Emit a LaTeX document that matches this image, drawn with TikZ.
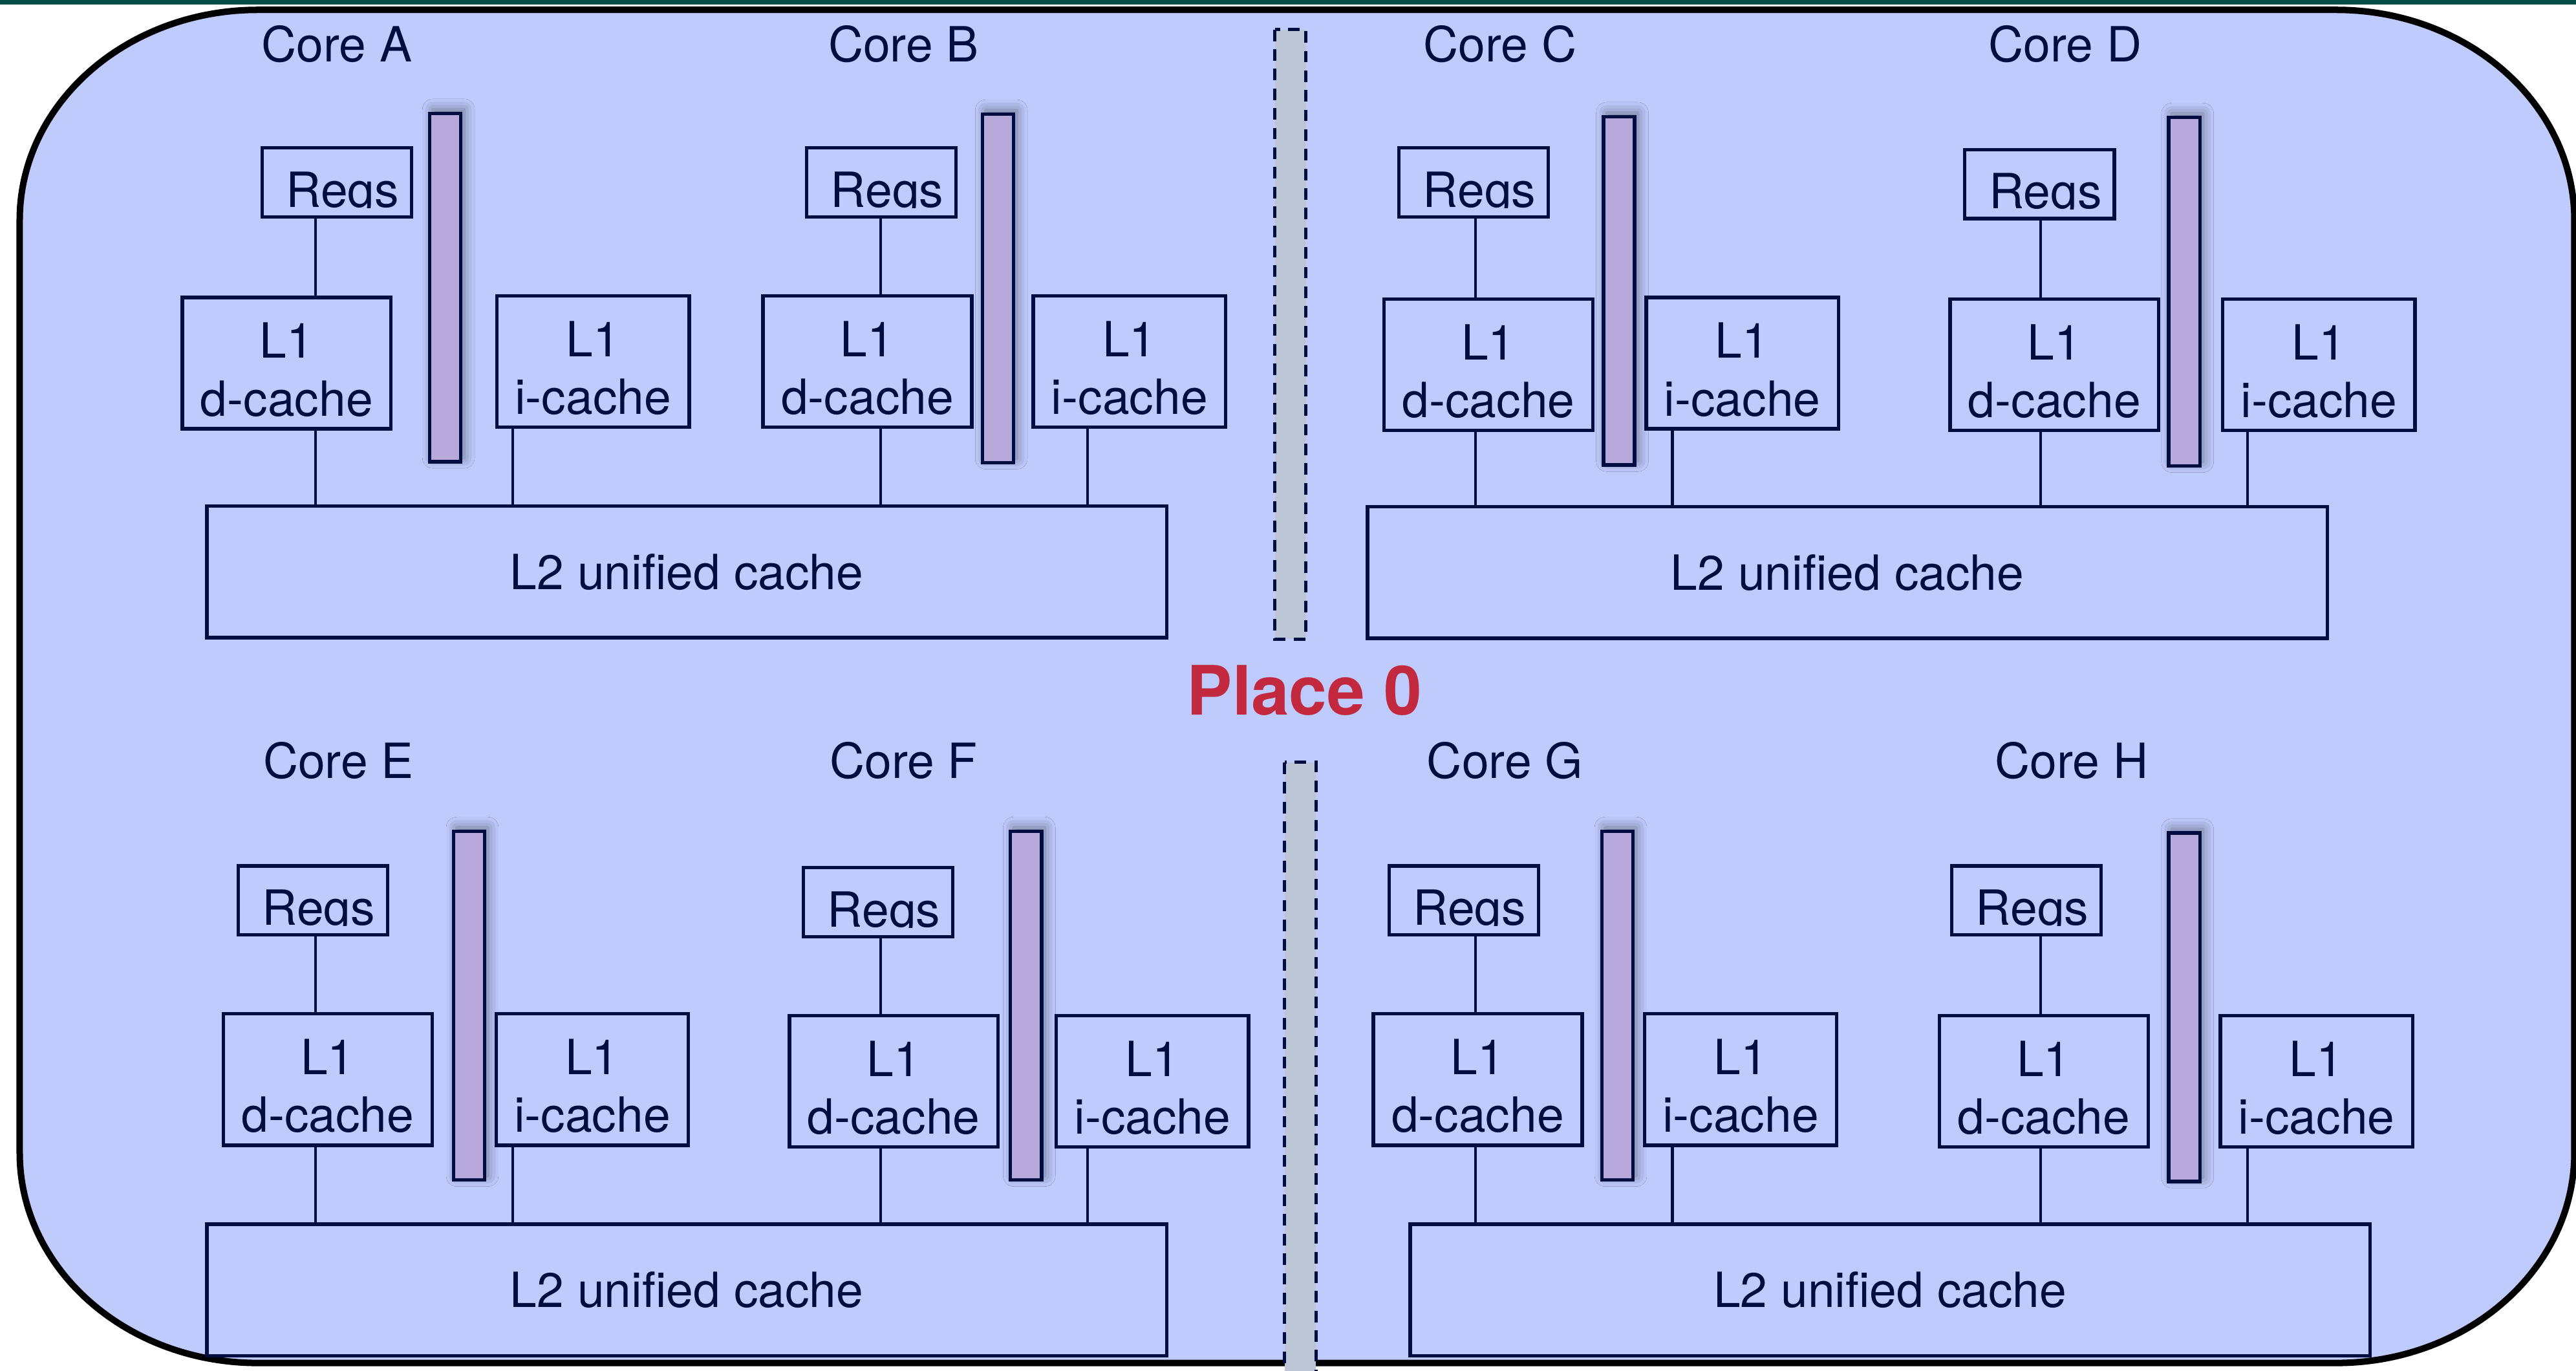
\documentclass[tikz,border=0pt]{standalone}
\usepackage{fontspec}
\setsansfont{TeX Gyre Heros}
\usetikzlibrary{shadows.blur}
\definecolor{navy}{HTML}{000D40}
\definecolor{canvas}{HTML}{C0CBFD}
\definecolor{barfill}{HTML}{B7AADB}
\definecolor{sepfill}{HTML}{BDC6D6}
\definecolor{placered}{HTML}{C2293F}
\definecolor{topband}{HTML}{004D48}
\tikzset{
  every node/.style={font=\sffamily\fontsize{21}{25}\selectfont, text=navy},
  box/.style={draw=navy, line width=1.5pt, fill=canvas, align=center, inner sep=0pt},
  twoline/.style={box, minimum height=2cm, execute at begin node={\rule{0pt}{46pt}}},
  dcache/.style={twoline, minimum width=3.175cm},
  icache/.style={twoline, minimum width=2.925cm},
  l2box/.style={box, minimum width=14.6cm, minimum height=2cm},
  regsbox/.style={box, minimum width=2.275cm, minimum height=1.05cm,
    path picture={\clip ([yshift=0.14cm]path picture bounding box.south west) rectangle (path picture bounding box.north east);
      \node[anchor=base, inner sep=0pt] at ([xshift=2.5pt, yshift=0.15cm]path picture bounding box.south) {#1};}},
  busbar/.style={draw=navy, line width=1.5pt, fill=barfill, minimum width=0.475cm, minimum height=5.3cm, inner sep=0pt,
    blur shadow={shadow xshift=0.5mm, shadow yshift=0.6mm, shadow blur radius=1.6mm, shadow opacity=45}},
  divider/.style={draw=navy, line width=1.4pt, fill=sepfill, dash pattern=on 5pt off 3.5pt},
  wire/.style={draw=navy, line width=1.2pt},
  corelabel/.style={inner sep=0pt},
  placelabel/.style={font=\sffamily\bfseries\fontsize{29.5}{30}\selectfont, text=placered, inner sep=0pt},
}

\begin{document}
\begin{tikzpicture}[x=0.025cm, y=-0.025cm]
\useasboundingbox (0,0) rectangle (1568,834);
\fill[white] (0,0) rectangle (1568,834);
\fill[topband] (0,0) rectangle (1568,2.7);
% outer place outline
\path[draw=black, line width=2.8pt, fill=canvas] (157,6) -- (1422,6) arc[start angle=-90, end angle=0, x radius=145, y radius=128]
  -- (1567,701.5) arc[start angle=0, end angle=90, x radius=145, y radius=128] -- (157,829.5) arc[start angle=90, end angle=180, x radius=145, y radius=128]
  -- (12,134) arc[start angle=180, end angle=270, x radius=145, y radius=128] -- cycle;
\path[divider] (776,18) rectangle (795,389);
\path[divider] (782,464) rectangle (801,840);
\node[placelabel] (place) at (794,420) {Place 0};
% tap columns
\coordinate (dcol1) at (192,0); \coordinate (icol1) at (312,0); \coordinate (dcol2) at (536,0); \coordinate (icol2) at (662,0);
\coordinate (dcol3) at (898,0); \coordinate (icol3) at (1018,0); \coordinate (dcol4) at (1242,0); \coordinate (icol4) at (1368,0);
% L2 caches
\node[l2box] (l2TL) at (418,348) {L2 unified cache}; \node[l2box] (l2TR) at (1124.5,348.5) {L2 unified cache};
\node[l2box] (l2BL) at (418,785) {L2 unified cache}; \node[l2box] (l2BR) at (1150.5,785) {L2 unified cache};
% cores A, B
\node[corelabel] (coreA) at (205,27) {Core A}; \node[regsbox=Regs] (regsA) at (205,111) {};
\node[dcache] (l1dA) at (174.5,221) {L1\\d-cache}; \node[icache] (l1iA) at (361,220) {L1\\i-cache}; \node[busbar] (busA) at (271,175) {};
\draw[wire] (regsA.south -| dcol1) -- (l1dA.north -| dcol1) (l1dA.south -| dcol1) -- (l2TL.north -| dcol1) (l1iA.south -| icol1) -- (l2TL.north -| icol1);
\node[corelabel] (coreB) at (550,27) {Core B}; \node[regsbox=Regs] (regsB) at (536.5,111) {};
\node[dcache] (l1dB) at (528,220) {L1\\d-cache}; \node[icache] (l1iB) at (687.5,220) {L1\\i-cache}; \node[busbar] (busB) at (607.5,175.5) {};
\draw[wire] (regsB.south -| dcol2) -- (l1dB.north -| dcol2) (l1dB.south -| dcol2) -- (l2TL.north -| dcol2) (l1iB.south -| icol2) -- (l2TL.north -| icol2);
% cores C, D
\node[corelabel] (coreC) at (913,27) {Core C}; \node[regsbox=Regs] (regsC) at (897,111) {};
\node[dcache] (l1dC) at (906,222) {L1\\d-cache}; \node[icache] (l1iC) at (1060.5,221) {L1\\i-cache}; \node[busbar] (busC) at (985.5,177) {};
\draw[wire] (regsC.south -| dcol3) -- (l1dC.north -| dcol3) (l1dC.south -| dcol3) -- (l2TR.north -| dcol3) (l1iC.south -| icol3) -- (l2TR.north -| icol3);
\node[corelabel] (coreD) at (1257,27) {Core D}; \node[regsbox=Regs] (regsD) at (1241.5,112) {};
\node[dcache] (l1dD) at (1250.5,222) {L1\\d-cache}; \node[icache] (l1iD) at (1411.5,222) {L1\\i-cache}; \node[busbar] (busD) at (1329.5,177.5) {};
\draw[wire] (regsD.south -| dcol4) -- (l1dD.north -| dcol4) (l1dD.south -| dcol4) -- (l2TR.north -| dcol4) (l1iD.south -| icol4) -- (l2TR.north -| icol4);
% cores E, F
\node[corelabel] (coreE) at (206,463) {Core E}; \node[regsbox=Regs] (regsE) at (190.5,548) {};
\node[dcache] (l1dE) at (199.5,657) {L1\\d-cache}; \node[icache] (l1iE) at (360.5,657) {L1\\i-cache}; \node[busbar] (busE) at (285.5,612) {};
\draw[wire] (regsE.south -| dcol1) -- (l1dE.north -| dcol1) (l1dE.south -| dcol1) -- (l2BL.north -| dcol1) (l1iE.south -| icol1) -- (l2BL.north -| icol1);
\node[corelabel] (coreF) at (550,463) {Core F}; \node[regsbox=Regs] (regsF) at (534.5,549) {};
\node[dcache] (l1dF) at (544,658) {L1\\d-cache}; \node[icache] (l1iF) at (701.5,658) {L1\\i-cache}; \node[busbar] (busF) at (624.5,612) {};
\draw[wire] (regsF.south -| dcol2) -- (l1dF.north -| dcol2) (l1dF.south -| dcol2) -- (l2BL.north -| dcol2) (l1iF.south -| icol2) -- (l2BL.north -| icol2);
% cores G, H
\node[corelabel] (coreG) at (916,463) {Core G}; \node[regsbox=Regs] (regsG) at (891,548) {};
\node[dcache] (l1dG) at (899.5,657) {L1\\d-cache}; \node[icache] (l1iG) at (1059.5,657) {L1\\i-cache}; \node[busbar] (busG) at (984.5,612) {};
\draw[wire] (regsG.south -| dcol3) -- (l1dG.north -| dcol3) (l1dG.south -| dcol3) -- (l2BR.north -| dcol3) (l1iG.south -| icol3) -- (l2BR.north -| icol3);
\node[corelabel] (coreH) at (1261,463) {Core H}; \node[regsbox=Regs] (regsH) at (1233.5,548) {};
\node[dcache] (l1dH) at (1244,658) {L1\\d-cache}; \node[icache] (l1iH) at (1410,658) {L1\\i-cache}; \node[busbar] (busH) at (1329.5,613) {};
\draw[wire] (regsH.south -| dcol4) -- (l1dH.north -| dcol4) (l1dH.south -| dcol4) -- (l2BR.north -| dcol4) (l1iH.south -| icol4) -- (l2BR.north -| icol4);
\end{tikzpicture}
\end{document}
